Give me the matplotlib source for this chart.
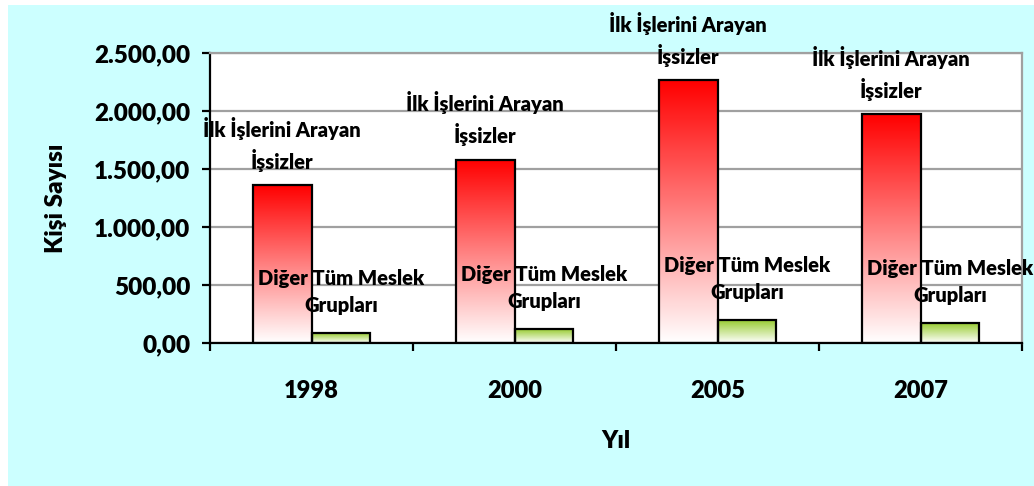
import matplotlib.pyplot as plt
import numpy as np
from matplotlib.patches import Rectangle
from matplotlib.colors import LinearSegmentedColormap
from matplotlib.ticker import FuncFormatter

plt.rcParams['font.family'] = ['Lato', 'DejaVu Sans']
plt.rcParams['font.weight'] = 'heavy'
plt.rcParams['axes.labelweight'] = 'heavy'

years = ["1998", "2000", "2005", "2007"]
ilk_is = [1362, 1578, 2265, 1972]
diger = [86, 120, 198, 172]
ilk_label = "İlk İşlerini Arayan\nİşsizler"
diger_label = "Diğer Tüm Meslek\nGrupları"

fig = plt.figure(figsize=(10.34, 4.86), dpi=100, facecolor="white")
fig.patches.append(Rectangle((8 / 1034, 0), 1 - 8 / 1034, 1 - 5 / 486,
                             transform=fig.transFigure, facecolor="#CCFFFF",
                             edgecolor="none", zorder=-1))
ax = fig.add_axes([210 / 1034, 1 - 343 / 486, 812 / 1034, 290 / 486])
ax.set_facecolor("white")

x = np.arange(len(years))
w = 0.29
red_cmap = LinearSegmentedColormap.from_list("r", ["#FFFFFF", "#FF0000"])
green_cmap = LinearSegmentedColormap.from_list("g", ["#FFFFFF", "#99CC33"])
grad = np.linspace(0, 1, 256).reshape(-1, 1)


def gradient_bars(xpos, vals, cmap):
    bars = ax.bar(xpos, vals, width=w, facecolor="none", edgecolor="black",
                  linewidth=1.6, zorder=3)
    for b in bars:
        x0, y0 = b.get_x(), b.get_y()
        im = ax.imshow(grad, cmap=cmap, aspect="auto", origin="lower",
                       extent=[x0, x0 + b.get_width(), y0, y0 + b.get_height()],
                       zorder=2)
        im.set_clip_path(b)
    return bars


red_bars = gradient_bars(x - w / 2, ilk_is, red_cmap)
green_bars = gradient_bars(x + w / 2, diger, green_cmap)

# etiketler: iki satırlık metin, çubuğun tepesinden ~41 piksel yukarıda ortalanır
for bars, vals, label in [(red_bars, ilk_is, ilk_label),
                          (green_bars, diger, diger_label)]:
    for b, v in zip(bars, vals):
        ax.annotate(label, (b.get_x() + b.get_width() / 2, v),
                    xytext=(0, 41), textcoords="offset pixels",
                    ha="center", va="center", fontsize=14.5,
                    linespacing=1.45, annotation_clip=False, zorder=5)

ax.set_xlim(-0.5, len(years) - 0.5)
ax.set_ylim(0, 2500)
ax.set_yticks(np.arange(0, 2501, 500))
ax.yaxis.set_major_formatter(FuncFormatter(
    lambda v, p: f"{v:,.2f}".replace(",", "X").replace(".", ",").replace("X", ".")))
ax.set_xticks(x)
ax.set_xticklabels(years)
ax.set_xticks(np.arange(-0.5, len(years)), minor=True)
ax.tick_params(axis="x", which="major", length=0, pad=27, labelsize=17)
ax.tick_params(axis="x", which="minor", length=6, width=1.6)
ax.tick_params(axis="y", length=6, width=1.6, labelsize=17.5, pad=8)

ax.grid(axis="y", color="#A0A0A0", linewidth=1.6, zorder=1)
ax.set_axisbelow(True)
for s in ["left", "bottom"]:
    ax.spines[s].set_color("black")
    ax.spines[s].set_linewidth(1.6)
for s in ["top", "right"]:
    ax.spines[s].set_color("#A0A0A0")
    ax.spines[s].set_linewidth(1.6)

ax.set_ylabel("Kişi Sayısı", fontsize=17.5, labelpad=20)
ax.set_xlabel("Yıl", fontsize=17.5, labelpad=20)

fig.savefig("out.png", dpi=100, facecolor=fig.get_facecolor())
